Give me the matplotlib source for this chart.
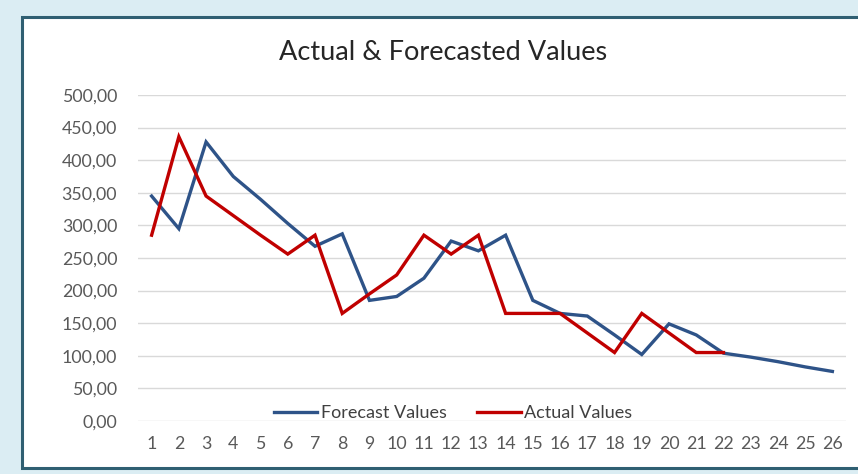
import matplotlib
matplotlib.use("Agg")
import matplotlib.pyplot as plt
from matplotlib.patches import Rectangle
from matplotlib.ticker import FuncFormatter

periods = list(range(1, 27))
forecast_values = [345, 295, 428, 375, 340, 303, 268, 287, 185, 191, 219, 276, 261, 285,
                   185, 165, 161, 132, 102, 149, 132, 104, 98, 91, 83, 76]
actual_periods = list(range(1, 23))
actual_values = [285, 436, 345, 315, 285, 256, 285, 165, 195, 224, 285, 256, 285, 165,
                 165, 165, 135, 105, 165, 135, 105, 105]

title = "Actual & Forecasted Values"
series_names = ["Forecast Values", "Actual Values"]
y_ticks = [0, 50, 100, 150, 200, 250, 300, 350, 400, 450, 500]

W, H = 858, 474
fig = plt.figure(figsize=(W / 100, H / 100), dpi=100)
fig.patch.set_facecolor("#DBEDF3")
plt.rcParams['font.family'] = ['Lato', 'DejaVu Sans']

# chart frame
frame = Rectangle((22 / W, 1 - 468 / H), 1.0, (468 - 17) / H, transform=fig.transFigure,
                  facecolor="white", edgecolor="#2F5F72", linewidth=2.2, zorder=-5)
fig.patches.append(frame)

ax = fig.add_axes([138 / W, 1 - 421 / H, 708 / W, 326 / H])
ax.set_zorder(2)
ax.set_facecolor("none")
l1, = ax.plot(periods, forecast_values, color="#2E5388", linewidth=2.4, label=series_names[0],
              solid_joinstyle="miter")
l2, = ax.plot(actual_periods, actual_values, color="#C00000", linewidth=2.4, label=series_names[1],
              solid_joinstyle="miter")

ax.set_xlim(0.5, 26.5)
ax.set_ylim(0, 500)
ax.set_yticks(y_ticks)
ax.yaxis.set_major_formatter(FuncFormatter(lambda v, p: f"{v:.2f}".replace(".", ",")))
ax.set_xticks(periods)
ax.grid(axis="y", color="#D9D9D9", linewidth=1.0)
ax.set_axisbelow(True)
for s in ax.spines.values():
    s.set_visible(False)
ax.tick_params(axis="both", length=0, colors="#595959", labelsize=12.8)
ax.tick_params(axis="y", pad=15)
ax.tick_params(axis="x", pad=11)

fig.text(443 / W, 1 - 52 / H, title, ha="center", va="center", fontsize=19.5, color="#262626")

leg = fig.legend(handles=[l1, l2], loc="center", bbox_to_anchor=(453 / W, 1 - 413 / H), ncol=2,
                 frameon=False, fontsize=13, handlelength=2.4, handletextpad=0.2, columnspacing=1.7,
                 labelcolor="#404040")
leg.set_zorder(3)

fig.savefig("out.png", dpi=100, facecolor=fig.get_facecolor())
